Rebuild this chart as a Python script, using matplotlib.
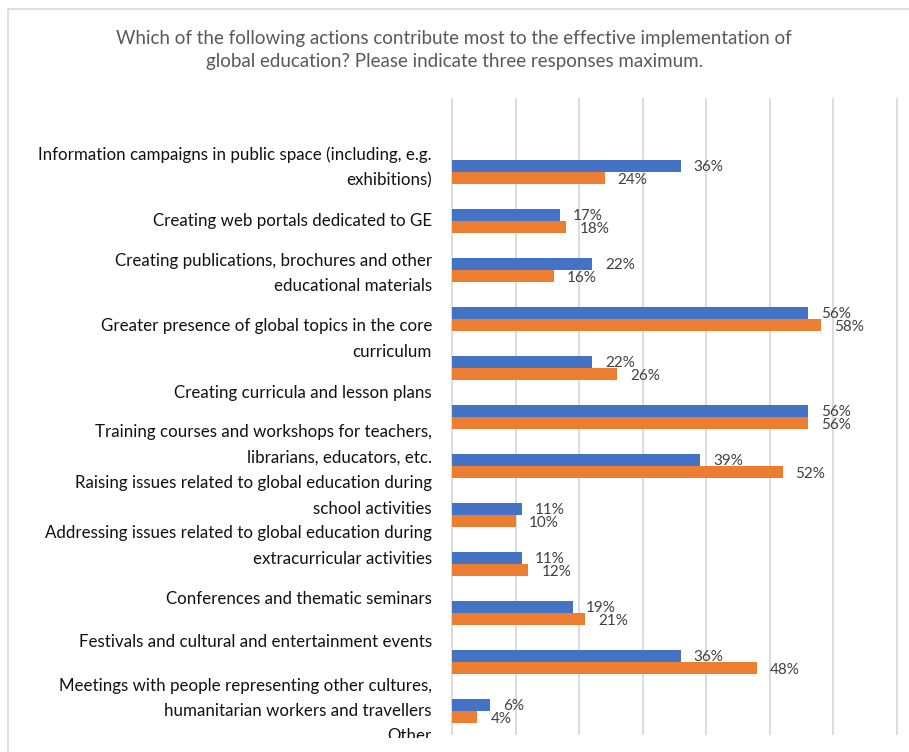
import matplotlib
matplotlib.use("Agg")
import matplotlib.pyplot as plt
from matplotlib.lines import Line2D

plt.rcParams['font.family'] = ['Lato', 'DejaVu Sans']

title = ("Which of the following actions contribute most to the effective implementation of\n"
         "global education? Please indicate three responses maximum.")

categories = [
    ["Information campaigns in public space (including, e.g.", "exhibitions)"],
    ["Creating web portals dedicated to GE"],
    ["Creating publications, brochures and other", "educational materials"],
    ["Greater presence of global topics in the core", "curriculum"],
    ["Creating curricula and lesson plans"],
    ["Training courses and workshops for teachers,", "librarians, educators, etc."],
    ["Raising issues related to global education during", "school activities"],
    ["Addressing issues related to global education during", "extracurricular activities"],
    ["Conferences and thematic seminars"],
    ["Festivals and cultural and entertainment events"],
    ["Meetings with people representing other cultures,", "humanitarian workers and travellers"],
    ["Other"],
]

# values in percent, one pair per visible bar group
series_blue = [36, 17, 22, 56, 22, 56, 39, 11, 11, 19, 36, 6]
series_orange = [24, 18, 16, 58, 26, 56, 52, 10, 12, 21, 48, 4]

BLUE = "#4472C4"
ORANGE = "#ED7D31"
GRID = "#D9D9D9"

W, H = 909, 752
fig = plt.figure(figsize=(W / 100, H / 100), dpi=100)

# light chart border: only the top and left edges fall inside the frame
fig.lines.append(Line2D([8 / W, 8 / W, 1.0], [0.0, 1 - 9 / H, 1 - 9 / H],
                        transform=fig.transFigure, color=GRID, lw=1.2))

# plot area in pixels
px_per_pct = 6.357
x0_px = 452 - 0.3 * px_per_pct
x1_px = 452 + 70.5 * px_per_pct
top_px, bot_px = 98, 735
ax = fig.add_axes([x0_px / W, 1 - bot_px / H, (x1_px - x0_px) / W, (bot_px - top_px) / H])
ax.set_xlim(-0.3, 70.5)
ax.set_ylim((bot_px - 172) / 49, (top_px - 172) / 49)

bar_h = 0.255
for i, (b, o) in enumerate(zip(series_blue, series_orange)):
    ax.barh(i - bar_h / 2, b, height=bar_h, color=BLUE, zorder=3)
    ax.barh(i + bar_h / 2, o, height=bar_h, color=ORANGE, zorder=3)
    ax.annotate(f"{b}%", (b, i - bar_h / 2), xytext=(13, -1), textcoords="offset pixels",
                ha="left", va="center", fontsize=11, color="#404040", zorder=4)
    ax.annotate(f"{o}%", (o, i + bar_h / 2), xytext=(13, -2), textcoords="offset pixels",
                ha="left", va="center", fontsize=11, color="#404040", zorder=4)

ax.set_xticks(range(0, 71, 10))
ax.set_yticks([])
ax.tick_params(axis="x", length=0, labelbottom=False)
ax.grid(axis="x", color=GRID, lw=1.3, zorder=0)
for s in ax.spines.values():
    s.set_visible(False)

# overlay in pixel coordinates for the title and category labels
lax = fig.add_axes([0, 1 - 738 / H, 1, 738 / H])
lax.set_xlim(0, W)
lax.set_ylim(738, 0)
lax.axis("off")

lax.text(454, 50, title, ha="center", va="center", fontsize=13.5, color="#595959",
         linespacing=1.4)

label_centers = [167.5, 220.7, 273.3, 339.2, 392.7, 445, 495.8, 546.2,
                 599.3, 642.3, 698.3, 735.7]
line_gap = 25.5
for lines, yc in zip(categories, label_centers):
    n = len(lines)
    for k, line in enumerate(lines):
        y = yc + (k - (n - 1) / 2) * line_gap
        lax.text(432, y, line, ha="right", va="center", fontsize=12.2,
                 color="#111111", clip_on=True)

fig.savefig("out.png", dpi=100)
